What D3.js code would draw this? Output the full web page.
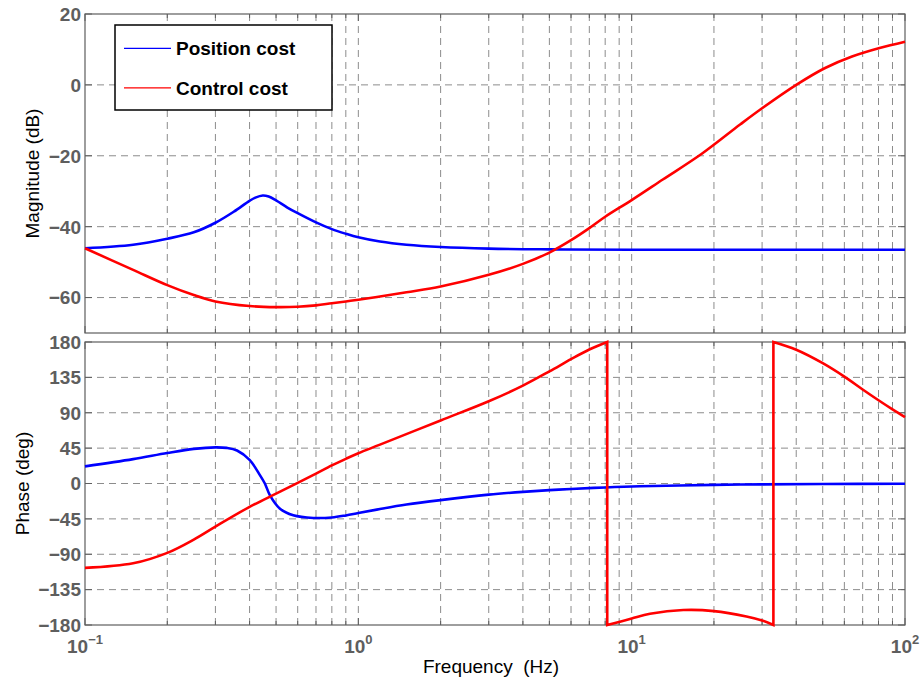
<!DOCTYPE html>
<html>
<head>
<meta charset="utf-8">
<script src="https://cdn.jsdelivr.net/npm/d3@7"></script>
<style>
  body { margin: 0; background: #fff; }
  svg { display: block; font-family: "Liberation Sans", Arial, sans-serif; }
</style>
</head>
<body>
<svg id="chart" width="921" height="680"></svg>
<script>
// ---------------- data ----------------
const legendLabels = ["Position cost", "Control cost"];
const seriesColors = ["#0000ff", "#ff0000"];

const magTicks = [-60, -40, -20, 0, 20];
const magTickLabels = ["\u221260", "\u221240", "\u221220", "0", "20"];
const phaseTicks = [-180, -135, -90, -45, 0, 45, 90, 135, 180];
const phaseTickLabels = ["\u2212180", "\u2212135", "\u221290", "\u221245", "0", "45", "90", "135", "180"];
const freqMajor = [0.1, 1, 10, 100];
const freqExponents = ["\u22121", "0", "1", "2"];

// Position cost magnitude [Hz, dB]
const posMag = [[0.1,-46.1],[0.15,-45.1],[0.2,-43.4],[0.25,-41.6],[0.3,-38.9],[0.35,-35.8],[0.4,-32.7],
  [0.42,-31.8],[0.447,-31.2],[0.47,-31.5],[0.5,-32.6],[0.55,-34.6],[0.6,-36.2],[0.7,-38.8],[0.8,-40.7],[0.9,-42.0],
  [1,-43.0],[1.2,-44.2],[1.5,-45.1],[2,-45.75],[3,-46.2],[5,-46.4],[10,-46.5],[100,-46.5]];
// Control cost magnitude [Hz, dB]
const ctrlMag = [[0.1,-46.1],[0.15,-52.2],[0.2,-56.5],[0.25,-59.3],[0.3,-61.1],[0.4,-62.4],[0.5,-62.7],[0.6,-62.6],
  [0.7,-62.2],[0.8,-61.6],[0.9,-61.1],[1,-60.6],[1.2,-59.7],[1.5,-58.5],[2,-56.9],[3,-53.6],[4,-50.5],
  [5,-47.3],[6,-43.8],[7,-40.4],[8,-37.2],[10,-32.5],[13,-26.7],[18,-19.5],[25,-11.1],[30,-6.6],
  [40,0],[50.8,4.7],[64,8.0],[80.7,10.4],[100,12.2]];
// Position cost phase [Hz, deg]
const posPhase = [[0.1,21.8],[0.15,31],[0.2,38.8],[0.25,44],[0.3,46],[0.33,45.3],[0.36,42],[0.4,30],
  [0.437,10.4],[0.455,0],[0.475,-15],[0.517,-32],[0.578,-40.4],[0.684,-43.8],[0.8,-43.2],[0.9,-40.6],
  [1,-37.6],[1.2,-32.5],[1.5,-26.8],[2,-21.1],[3,-14.2],[4,-10.6],[5,-8.4],[6,-7.0],[8,-5],[10.7,-3.5],
  [20,-1.8],[30,-1.1],[50,-0.6],[100,-0.3]];
// Control cost phase, three wrapped branches [Hz, deg]
const ctrlPhase1 = [[0.1,-107.3],[0.15,-101.5],[0.2,-88.2],[0.25,-71.3],[0.3,-54.8],[0.4,-29.8],[0.5,-12.9],
  [0.6,0.7],[0.7,12.5],[0.8,23],[0.9,31.4],[1,38.5],[1.2,49.4],[2,80.2],[3,104.6],[4,124.5],[5,142.6],
  [6,158.2],[7,170.5],[8.14,180]];
const ctrlPhase2 = [[8.14,-180],[10,-171.6],[11.67,-165.8],[15.45,-161],[20,-162.3],[26.3,-169.2],[30,-174.3],[33,-180]];
const ctrlPhase3 = [[33,180],[40,170.1],[50,153],[60,135.9],[70,119.6],[80,105.9],[90,94.3],[100,84.4]];

// ---------------- layout ----------------
const svg = d3.select("#chart");
const x = d3.scaleLog().domain([0.1, 100]).range([85, 905]);
const yMag = d3.scaleLinear().domain([-70, 20]).range([333, 14]);
const yPh = d3.scaleLinear().domain([-180, 180]).range([625, 342]);

const minorFreqs = [];
[0.1, 1, 10].forEach(d => { for (let k = 2; k <= 9; k++) minorFreqs.push(d * k); });
const allFreqs = freqMajor.concat(minorFreqs);

const axisColor = "#5e5e5e";
const gridColor = "#8c8c8c";

function panel(y, yTicks, yLabels, showX) {
  const g = svg.append("g");
  const [y0, y1] = y.range(); // bottom, top
  const [x0, x1] = x.range();
  // grid
  const grid = g.append("g").attr("stroke", gridColor).attr("stroke-width", 1).attr("stroke-dasharray", "7,5").attr("fill", "none");
  allFreqs.filter(f => f > 0.1 && f < 100).forEach(f => {
    grid.append("line").attr("x1", x(f)).attr("x2", x(f)).attr("y1", y1).attr("y2", y0);
  });
  yTicks.forEach(v => {
    const py = y(v);
    if (Math.abs(py - y0) < 1 || Math.abs(py - y1) < 1) return;
    grid.append("line").attr("x1", x0).attr("x2", x1).attr("y1", py).attr("y2", py);
  });
  // frame
  g.append("rect").attr("x", x0).attr("y", y1).attr("width", x1 - x0).attr("height", y0 - y1)
    .attr("fill", "none").attr("stroke", axisColor).attr("stroke-width", 1.2);
  // ticks inward
  const tk = g.append("g").attr("stroke", axisColor).attr("stroke-width", 1);
  allFreqs.forEach(f => {
    const len = freqMajor.includes(f) ? 7 : 4;
    tk.append("line").attr("x1", x(f)).attr("x2", x(f)).attr("y1", y0).attr("y2", y0 - len);
    tk.append("line").attr("x1", x(f)).attr("x2", x(f)).attr("y1", y1).attr("y2", y1 + len);
  });
  yTicks.forEach(v => {
    tk.append("line").attr("x1", x0).attr("x2", x0 + 7).attr("y1", y(v)).attr("y2", y(v));
    tk.append("line").attr("x1", x1).attr("x2", x1 - 7).attr("y1", y(v)).attr("y2", y(v));
  });
  // y tick labels
  yTicks.forEach((v, i) => {
    g.append("text").attr("x", x0 - 4).attr("y", y(v)).attr("dy", "0.36em")
      .attr("text-anchor", "end").attr("font-size", 19).attr("font-weight", "bold")
      .attr("fill", axisColor).text(yLabels[i]);
  });
  if (showX) {
    freqMajor.forEach((f, i) => {
      const t = g.append("text").attr("x", x(f)).attr("y", y0 + 28).attr("text-anchor", "middle")
        .attr("font-size", 19).attr("font-weight", "bold").attr("fill", axisColor);
      t.append("tspan").text("10");
      t.append("tspan").attr("dy", -9).attr("font-size", 13).text(freqExponents[i]);
    });
  }
  return g;
}

panel(yMag, magTicks, magTickLabels, false);
panel(yPh, phaseTicks, phaseTickLabels, true);

// curves
function lineFor(y) {
  return d3.line().x(d => x(d[0])).y(d => y(d[1])).curve(d3.curveCatmullRom.alpha(0.5));
}
const lm = lineFor(yMag), lp = lineFor(yPh);

svg.append("path").attr("d", lm(posMag)).attr("fill", "none").attr("stroke", seriesColors[0]).attr("stroke-width", 2.6);
svg.append("path").attr("d", lm(ctrlMag)).attr("fill", "none").attr("stroke", seriesColors[1]).attr("stroke-width", 2.6);
svg.append("path").attr("d", lp(posPhase)).attr("fill", "none").attr("stroke", seriesColors[0]).attr("stroke-width", 2.6);
const redPhaseD = [ctrlPhase1, ctrlPhase2, ctrlPhase3].map((s, i) => {
  const d = lp(s);
  return i === 0 ? d : "L" + d.slice(1);
}).join("");
svg.append("path").attr("d", redPhaseD).attr("fill", "none").attr("stroke", seriesColors[1]).attr("stroke-width", 2.6).attr("stroke-linejoin", "miter");

// legend
const lg = svg.append("g");
lg.append("rect").attr("x", 115).attr("y", 25).attr("width", 217).attr("height", 85)
  .attr("fill", "#fff").attr("stroke", "#000").attr("stroke-width", 1.5);
legendLabels.forEach((lab, i) => {
  const ly = 48.3 + i * 39.5;
  lg.append("line").attr("x1", 124).attr("x2", 171).attr("y1", ly).attr("y2", ly)
    .attr("stroke", seriesColors[i]).attr("stroke-width", 1.3);
  lg.append("text").attr("x", 176).attr("y", ly).attr("dy", "0.36em")
    .attr("font-size", 19).attr("font-weight", "bold").attr("fill", "#000").text(lab);
});

// axis labels
svg.append("text").attr("transform", "translate(39,173.5) rotate(-90)").attr("text-anchor", "middle")
  .attr("font-size", 19).attr("fill", "#000").text("Magnitude (dB)");
svg.append("text").attr("transform", "translate(29,483.5) rotate(-90)").attr("text-anchor", "middle")
  .attr("font-size", 19).attr("fill", "#000").text("Phase (deg)");
svg.append("text").attr("x", 491).attr("y", 673).attr("text-anchor", "middle")
  .attr("font-size", 19).attr("fill", "#000").style("white-space", "pre").text("Frequency  (Hz)");
</script>
</body>
</html>
